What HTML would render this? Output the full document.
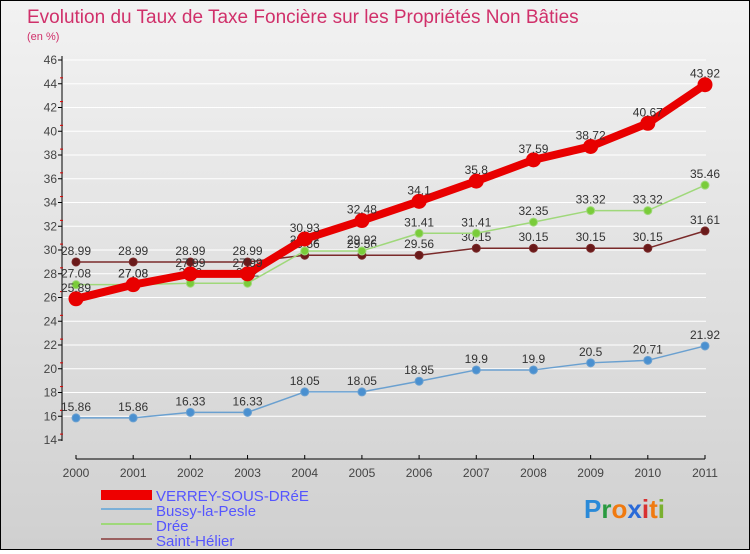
<!DOCTYPE html>
<html><head><meta charset="utf-8"><style>
body{margin:0;width:750px;height:550px;overflow:hidden;font-family:"Liberation Sans",sans-serif}
#wrap{position:relative;width:748px;height:548px;border:1px solid #000;background:linear-gradient(#f2f2f2,#d0d0d0)}
</style></head><body>
<div id="wrap">
<svg id="chart" width="748" height="548" xmlns="http://www.w3.org/2000/svg">
<text x="26" y="22" font-size="19" fill="#d0306a">Evolution du Taux de Taxe Foncière sur les Propriétés Non Bâties</text>
<text x="26" y="39" font-size="11" fill="#d0306a">(en %)</text>
<g id="axes"></g><g id="series"></g>
<g>
<rect x="100" y="489" width="51" height="10" fill="#e00"/>
<text x="155" y="500" font-size="15" fill="#55f">VERREY-SOUS-DRéE</text>
<line x1="100" y1="508" x2="151" y2="508" stroke="#7ab0d8" stroke-width="2"/>
<text x="155" y="515" font-size="15" fill="#55f">Bussy-la-Pesle</text>
<line x1="100" y1="523" x2="151" y2="523" stroke="#9fd87a" stroke-width="2"/>
<text x="155" y="530" font-size="15" fill="#55f">Drée</text>
<line x1="100" y1="538" x2="151" y2="538" stroke="#9a6060" stroke-width="2"/>
<text x="155" y="545" font-size="15" fill="#55f">Saint-Hélier</text>
</g>
<text x="583" y="517" font-size="26" font-weight="bold"><tspan fill="#2a8ad8">P</tspan><tspan fill="#2a9a40">r</tspan><tspan fill="#f07a10">o</tspan><tspan fill="#2a6ad8">x</tspan><tspan fill="#d83030">i</tspan><tspan fill="#f07a10">t</tspan><tspan fill="#7ab030">i</tspan></text>
</svg></div>
<script>
const years=["2000","2001","2002","2003","2004","2005","2006","2007","2008","2009","2010","2011"];
const yTicks=[14,16,18,20,22,24,26,28,30,32,34,36,38,40,42,44,46];
const verrey=[25.89,27.08,27.99,27.99,30.93,32.48,34.1,35.8,37.59,38.72,40.67,43.92];
const bussy=[15.86,15.86,16.33,16.33,18.05,18.05,18.95,19.9,19.9,20.5,20.71,21.92];
const dree=[27.08,27.08,27.2,27.2,29.92,29.92,31.41,31.41,32.35,33.32,33.32,35.46];
const saint=[28.99,28.99,28.99,28.99,29.56,29.56,29.56,30.15,30.15,30.15,30.15,31.61];
const NS="http://www.w3.org/2000/svg";
const xS=i=>75+i*(629/11);
const yS=v=>439-(v-14)*(380/32);
function mk(tag,attrs,parent){const e=document.createElementNS(NS,tag);for(const k in attrs)e.setAttribute(k,attrs[k]);parent.appendChild(e);return e;}
const ax=document.getElementById('axes');
let l=mk('line',{x1:61,y1:55,x2:61,y2:440,stroke:'#000'},ax);


l=mk('line',{x1:75,y1:458,x2:704,y2:458,stroke:'#000'},ax);


yTicks.forEach(v=>{const y=yS(v);
mk('line',{x1:57,y1:y,x2:61,y2:y,stroke:'#000'},ax);
if(v<46)mk('line',{x1:59,y1:y-5.9,x2:62,y2:y-5.9,stroke:'#d00'},ax);
const t=mk('text',{x:56,y:y+4,'font-size':12,fill:'#444','text-anchor':'end'},ax);t.textContent=v;


if(v>14){const g=mk('line',{x1:62,y1:y,x2:705,y2:y,stroke:'#fff','stroke-width':1},ax);}
});
years.forEach((yr,i)=>{const x=xS(i);
mk('line',{x1:x,y1:454,x2:x,y2:458,stroke:'#000'},ax);
const t=mk('text',{x:x,y:476,'font-size':12,fill:'#444','text-anchor':'middle'},ax);t.textContent=yr;

});
const sg=document.getElementById('series');
function series(data,color,w,r,fill,name){
const g=mk('g',{},sg);


mk('polyline',{points:data.map((v,i)=>xS(i)+','+yS(v)).join(' '),fill:'none',stroke:color,'stroke-width':w,'stroke-linejoin':'round'},g);
data.forEach((v,i)=>{const c=mk('circle',{cx:xS(i),cy:yS(v),r:r,fill:fill,stroke:color,'stroke-width':1},g);


const t=mk('text',{x:xS(i),y:yS(v)-7,'font-size':12,fill:'#333','text-anchor':'middle'},g);t.textContent=v;

});
}
series(saint,'#7a2a2a',1.5,4,'#6a1a1a','series-saint-helier');
series(dree,'#9fd87a',1.5,4,'#7acc3a','series-dree');
series(bussy,'#6aa0d0',1.5,4,'#4a90d0','series-bussy');
series(verrey,'#e80000',8,7,'#e80000','series-verrey');
</script>
</body></html>
